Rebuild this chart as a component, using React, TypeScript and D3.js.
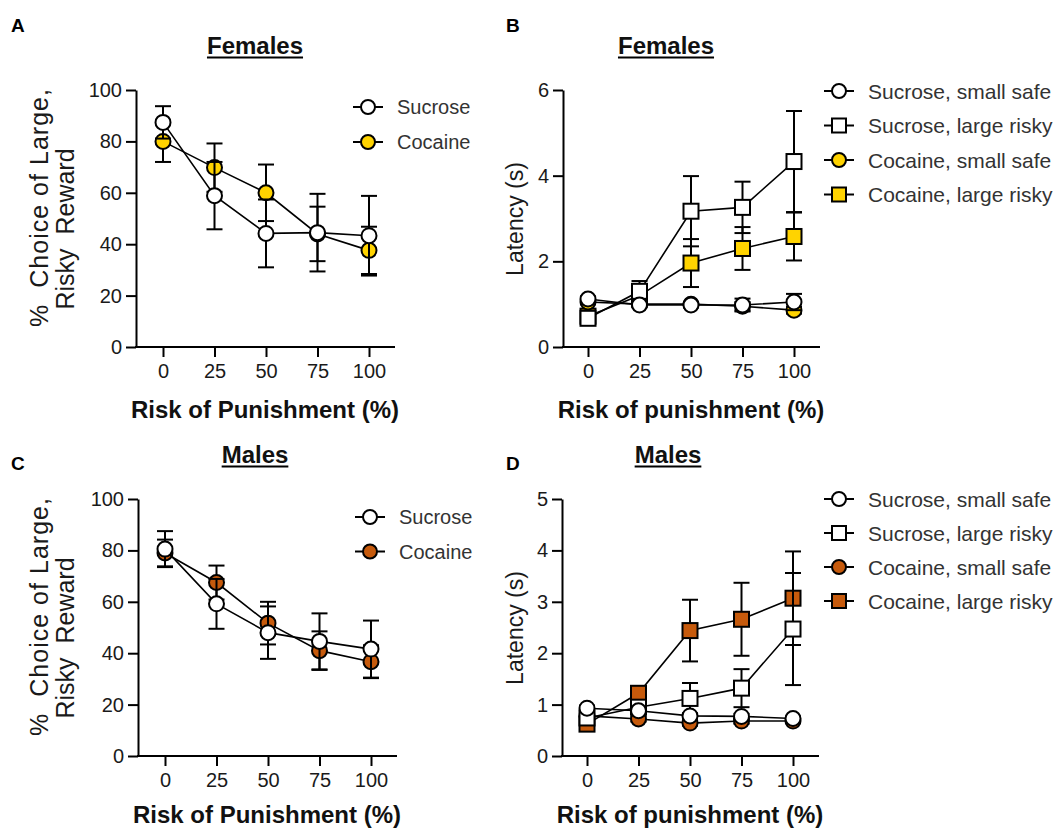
import { useEffect, useRef } from 'react';
import * as d3 from 'd3';

// risk of punishment levels (x)
const risk = [0, 25, 50, 75, 100];

const yellow = '#FFD300';
const orange = '#C65A0C';

// A: females, % choice of large risky reward
const femChoiceSucrose = [87.4, 58.9, 44.2, 44.5, 43.3];
const femChoiceSucroseSem = [6.3, 13.1, 13.2, 15.1, 15.5];
const femChoiceCocaine = [80, 69.8, 60, 44, 37.6];
const femChoiceCocaineSem = [8, 9.4, 11, 10.6, 9.2];

// B: females, latency (s)
const femLatSucSmall = [1.12, 0.98, 0.98, 0.98, 1.05];
const femLatSucSmallSem = [0.06, 0.05, 0.05, 0.15, 0.19];
const femLatSucLarge = [0.67, 1.3, 3.17, 3.26, 4.33];
const femLatSucLargeSem = [0.08, 0.24, 0.82, 0.6, 1.18];
const femLatCocSmall = [1.05, 1.0, 1.0, 0.95, 0.86];
const femLatCocSmallSem = [0.05, 0.05, 0.05, 0.1, 0.08];
const femLatCocLarge = [0.72, 1.2, 1.96, 2.3, 2.58];
const femLatCocLargeSem = [0.08, 0.2, 0.56, 0.5, 0.56];

// C: males, % choice
const maleChoiceSucrose = [80.5, 59.2, 48, 44.6, 41.6];
const maleChoiceSucroseSem = [7, 9.7, 10.2, 10.9, 11.1];
const maleChoiceCocaine = [79, 67.5, 51.7, 41, 36.7];
const maleChoiceCocaineSem = [5.2, 6.6, 8.3, 7.5, 6.4];

// D: males, latency (s)
const maleLatSucSmall = [0.93, 0.88, 0.78, 0.77, 0.73];
const maleLatSucSmallSem = [0.05, 0.05, 0.05, 0.05, 0.04];
const maleLatSucLarge = [0.74, 0.95, 1.12, 1.32, 2.47];
const maleLatSucLargeSem = [0.08, 0.12, 0.3, 0.37, 1.09];
const maleLatCocSmall = [0.78, 0.72, 0.64, 0.68, 0.68];
const maleLatCocSmallSem = [0.05, 0.05, 0.05, 0.05, 0.04];
const maleLatCocLarge = [0.62, 1.22, 2.44, 2.66, 3.07];
const maleLatCocLargeSem = [0.08, 0.12, 0.6, 0.71, 0.91];

const choiceTicks = [0, 20, 40, 60, 80, 100];
const femLatTicks = [0, 2, 4, 6];
const maleLatTicks = [0, 1, 2, 3, 4, 5];

type Series = { name: string; mean: number[]; sem: number[]; fill: string; shape: 'circle' | 'square' };

const FONT = "'Liberation Sans', Arial, Helvetica, sans-serif";

const drawMarker = (g: any, shape: string, cx: number, cy: number, fill: string, size = 7.5) => {
  if (shape === 'circle') {
    g.append('circle').attr('cx', cx).attr('cy', cy).attr('r', size)
      .attr('fill', fill).attr('stroke', '#000').attr('stroke-width', 2);
  } else {
    g.append('rect').attr('x', cx - size).attr('y', cy - size)
      .attr('width', size * 2).attr('height', size * 2)
      .attr('fill', fill).attr('stroke', '#000').attr('stroke-width', 2);
  }
};

const drawPanel = (svg: any, cfg: any) => {
  const x = d3.scaleLinear().domain([0, 100]).range([cfg.x0, cfg.x1]);
  const y = d3.scaleLinear().domain([0, cfg.yMax]).range([cfg.yBottom, cfg.yTop]);
  const g = svg.append('g');

  // y axis
  const ya = g.append('g')
    .attr('transform', `translate(${cfg.axisX},0)`)
    .call(d3.axisLeft(y).tickValues(cfg.yTicks).tickSize(10).tickSizeOuter(0).tickPadding(4).tickFormat(d3.format('d')));
  // x axis
  const xa = g.append('g')
    .attr('transform', `translate(0,${cfg.yBottom})`)
    .call(d3.axisBottom(x).tickValues(risk).tickSize(10).tickSizeOuter(0).tickPadding(7).tickFormat(d3.format('d')));
  xa.select('.domain').remove();
  g.append('line')
    .attr('x1', cfg.axisX - 1).attr('x2', cfg.axisEnd)
    .attr('y1', cfg.yBottom).attr('y2', cfg.yBottom)
    .attr('stroke', '#000').attr('stroke-width', 2);
  [ya, xa].forEach(a => {
    a.selectAll('path, line').attr('stroke', '#000').attr('stroke-width', 2);
    a.selectAll('text').attr('font-family', FONT).attr('font-size', 20).attr('fill', '#1a1a1a');
  });

  // data, drawn back to front
  const line = d3.line<number>().x((_, i) => x(risk[i])).y(d => y(d));
  [...cfg.series].reverse().forEach((s: Series) => {
    const sg = g.append('g');
    s.mean.forEach((m, i) => {
      const cx = x(risk[i]);
      const lo = y(m - s.sem[i]);
      const hi = y(m + s.sem[i]);
      sg.append('line').attr('x1', cx).attr('x2', cx).attr('y1', lo).attr('y2', hi)
        .attr('stroke', '#000').attr('stroke-width', 2);
      [lo, hi].forEach(yy => sg.append('line')
        .attr('x1', cx - 8).attr('x2', cx + 8).attr('y1', yy).attr('y2', yy)
        .attr('stroke', '#000').attr('stroke-width', 2));
    });
    sg.append('path').attr('d', line(s.mean)).attr('fill', 'none')
      .attr('stroke', '#000').attr('stroke-width', 1.6);
    s.mean.forEach((m, i) => drawMarker(sg, s.shape, x(risk[i]), y(m), s.fill));
  });

  // legend
  const lg = g.append('g');
  cfg.series.forEach((s: Series, i: number) => {
    const ly = cfg.legendY + i * cfg.legendStep;
    lg.append('line').attr('x1', cfg.legendX - 15).attr('x2', cfg.legendX + 15)
      .attr('y1', ly).attr('y2', ly).attr('stroke', '#000').attr('stroke-width', 2);
    drawMarker(lg, s.shape, cfg.legendX, ly, s.fill, 7);
    lg.append('text').attr('x', cfg.legendX + 29).attr('y', ly)
      .attr('dominant-baseline', 'central')
      .attr('font-family', FONT).attr('font-size', cfg.legendFont).attr('fill', '#333')
      .text(s.name);
  });

  // title with underline
  const t = g.append('text').attr('x', cfg.titleX).attr('y', cfg.titleY)
    .attr('text-anchor', 'middle').attr('font-family', FONT)
    .attr('font-size', 24).attr('font-weight', 'bold').attr('fill', '#111')
    .text(cfg.title);
  const bb = (t.node() as SVGTextElement).getBBox();
  g.append('line').attr('x1', bb.x).attr('x2', bb.x + bb.width)
    .attr('y1', cfg.titleY + 3.5).attr('y2', cfg.titleY + 3.5)
    .attr('stroke', '#000').attr('stroke-width', 2);

  // panel letter
  g.append('text').attr('x', cfg.letterX).attr('y', cfg.letterY)
    .attr('font-family', FONT).attr('font-size', 19).attr('font-weight', 'bold')
    .text(cfg.letter);

  // x label
  g.append('text').attr('x', cfg.xLabelX).attr('y', cfg.yBottom + cfg.xLabelDy)
    .attr('text-anchor', 'middle').attr('font-family', FONT)
    .attr('font-size', 24).attr('font-weight', 'bold').attr('fill', '#111')
    .text(cfg.xLabel);

  // y label lines
  cfg.yLabels.forEach((l: any) => {
    const txt = g.append('text')
      .attr('transform', `translate(${l.x},${cfg.yBottom + l.dy}) rotate(-90)`)
      .attr('text-anchor', 'middle').attr('dominant-baseline', 'central')
      .attr('font-family', FONT).attr('font-size', l.size).attr('fill', '#1a1a1a')
      .attr('xml:space', 'preserve')
      .text(l.text);
    if (l.len) txt.attr('textLength', l.len).attr('lengthAdjust', 'spacing');
  });
};

const App = () => {
  const svgRef = useRef<SVGSVGElement>(null);

  useEffect(() => {
    document.body.style.margin = '0';
    const svg = d3.select(svgRef.current);
    svg.selectAll('*').remove();

    const choiceLabels = [
      { text: '%  Choice of Large,', x: 39, dy: -139, size: 25, len: 238 },
      { text: 'Risky  Reward', x: 65, dy: -118, size: 25 },
    ];
    const latLabels = [{ text: 'Latency (s)', x: 515, dy: -128, size: 23 }];

    drawPanel(svg, {
      x0: 163, x1: 369, axisX: 136, axisEnd: 395, yTop: 90, yBottom: 347, yMax: 100, yTicks: choiceTicks,
      series: [
        { name: 'Sucrose', mean: femChoiceSucrose, sem: femChoiceSucroseSem, fill: '#fff', shape: 'circle' },
        { name: 'Cocaine', mean: femChoiceCocaine, sem: femChoiceCocaineSem, fill: yellow, shape: 'circle' },
      ],
      legendX: 368, legendY: 107, legendStep: 35, legendFont: 20,
      title: 'Females', titleX: 255, titleY: 54, letter: 'A', letterX: 11, letterY: 32,
      xLabel: 'Risk of Punishment (%)', xLabelX: 265, xLabelDy: 71, yLabels: choiceLabels,
    });

    drawPanel(svg, {
      x0: 588, x1: 794, axisX: 563, axisEnd: 820, yTop: 90, yBottom: 347, yMax: 6, yTicks: femLatTicks,
      series: [
        { name: 'Sucrose, small safe', mean: femLatSucSmall, sem: femLatSucSmallSem, fill: '#fff', shape: 'circle' },
        { name: 'Sucrose, large risky', mean: femLatSucLarge, sem: femLatSucLargeSem, fill: '#fff', shape: 'square' },
        { name: 'Cocaine, small safe', mean: femLatCocSmall, sem: femLatCocSmallSem, fill: yellow, shape: 'circle' },
        { name: 'Cocaine, large risky', mean: femLatCocLarge, sem: femLatCocLargeSem, fill: yellow, shape: 'square' },
      ],
      legendX: 839, legendY: 91, legendStep: 34.5, legendFont: 21,
      title: 'Females', titleX: 666, titleY: 54, letter: 'B', letterX: 506, letterY: 32,
      xLabel: 'Risk of punishment (%)', xLabelX: 691, xLabelDy: 71, yLabels: latLabels,
    });

    drawPanel(svg, {
      x0: 165, x1: 371, axisX: 138, axisEnd: 397, yTop: 499, yBottom: 756, yMax: 100, yTicks: choiceTicks,
      series: [
        { name: 'Sucrose', mean: maleChoiceSucrose, sem: maleChoiceSucroseSem, fill: '#fff', shape: 'circle' },
        { name: 'Cocaine', mean: maleChoiceCocaine, sem: maleChoiceCocaineSem, fill: orange, shape: 'circle' },
      ],
      legendX: 370, legendY: 517, legendStep: 34.5, legendFont: 20,
      title: 'Males', titleX: 255, titleY: 463, letter: 'C', letterX: 11, letterY: 470,
      xLabel: 'Risk of Punishment (%)', xLabelX: 267, xLabelDy: 67, yLabels: choiceLabels,
    });

    drawPanel(svg, {
      x0: 587, x1: 793, axisX: 562, axisEnd: 819, yTop: 499, yBottom: 756, yMax: 5, yTicks: maleLatTicks,
      series: [
        { name: 'Sucrose, small safe', mean: maleLatSucSmall, sem: maleLatSucSmallSem, fill: '#fff', shape: 'circle' },
        { name: 'Sucrose, large risky', mean: maleLatSucLarge, sem: maleLatSucLargeSem, fill: '#fff', shape: 'square' },
        { name: 'Cocaine, small safe', mean: maleLatCocSmall, sem: maleLatCocSmallSem, fill: orange, shape: 'circle' },
        { name: 'Cocaine, large risky', mean: maleLatCocLarge, sem: maleLatCocLargeSem, fill: orange, shape: 'square' },
      ],
      legendX: 839, legendY: 499, legendStep: 34, legendFont: 21,
      title: 'Males', titleX: 668, titleY: 463, letter: 'D', letterX: 506, letterY: 470,
      xLabel: 'Risk of punishment (%)', xLabelX: 690, xLabelDy: 67, yLabels: latLabels,
    });
  }, []);

  return (
    <svg ref={svgRef} width={1059} height={830} style={{ display: 'block', background: '#fff' }} />
  );
};

export default App;
